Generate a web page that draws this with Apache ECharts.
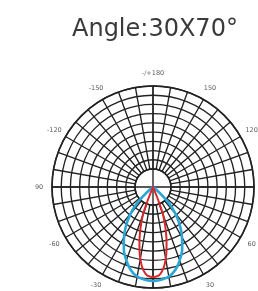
<!DOCTYPE html>
<html>
<head>
<meta charset="utf-8">
<script src="https://cdn.jsdelivr.net/npm/echarts@6/dist/echarts.min.js"></script>
<style>
html,body{margin:0;padding:0;background:#fff;}
#chart{width:258px;height:291px;}
</style>
</head>
<body>
<div id="chart"></div>
<script>
// title
var titleText = 'Angle:30X70°';

// angle tick labels (0 at the bottom, counter-clockwise)
var tickAngles = [0, 30, 60, 90, 120, 150, 180, 210, 240, 270, 300, 330];
var tickLabels = ['0', '30', '60', '90', '120', '150', '-/+180', '-150', '-120', '90', '-60', '-30'];

// 70 deg beam (blue)
var blueAngles = [-55, -50, -47, -45, -40, -35, -30, -25, -20, -15, -10, -5, 0, 5, 10, 15, 20, 25, 30, 35, 40, 45, 47, 50, 55];
var blueValues = [0, 4, 14, 22, 35, 47, 58, 69, 78, 86, 91, 93, 94, 93, 91, 86, 78, 69, 58, 47, 35, 22, 14, 4, 0];

// 30 deg beam (red)
var redAngles = [-25, -23, -22, -21, -20, -18, -16, -14, -12, -10, -8, -6, -4, -2, 0, 2, 4, 6, 8, 10, 12, 14, 16, 18, 20, 21, 22, 23, 25];
var redValues = [0, 3, 10, 20, 29, 38, 47, 56, 65, 73, 80, 85, 88.5, 89.5, 90, 89.5, 88.5, 85, 80, 73, 65, 56, 47, 38, 29, 20, 10, 3, 0];

function pairs(vals, angs){
	var out = [];
	for(var i=0;i<vals.length;i++){
		out.push([vals[i], angs[i]]);
	}
	return out;
}

var labelData = [];
for(var i=0;i<tickAngles.length;i++){
	labelData.push({value:[10.4, tickAngles[i]], name:tickLabels[i]});
}

var gridColor = '#222';
var center = [153, 187];

var myChart = echarts.init(document.getElementById('chart'), null, {renderer:'canvas'});

var option = {
	animation : false,
	title : {
		text : titleText,
		left : 67,
		top : 13,
		textStyle : {
			fontFamily : 'DejaVu Sans',
			fontSize : 24,
			fontWeight : 'normal',
			color : '#3a3a3a'
		}
	},
	polar : [
		{center : center, radius : [18, 101]},
		{center : center, radius : [0, 101]}
	],
	radiusAxis : [
		{
			polarIndex : 0,
			type : 'value',
			min : 0, max : 9, interval : 1,
			axisLine : {show:false},
			axisTick : {show:false},
			axisLabel : {show:false},
			splitLine : {show:true, lineStyle:{color:gridColor, width:1.35}}
		},
		{
			polarIndex : 1,
			type : 'value',
			min : 0, max : 101,
			axisLine : {show:false},
			axisTick : {show:false},
			axisLabel : {show:false},
			splitLine : {show:false}
		}
	],
	angleAxis : [
		{
			polarIndex : 0,
			type : 'value',
			min : 0, max : 360, interval : 30,
			startAngle : 270,
			clockwise : false,
			axisLine : {show:true, lineStyle:{color:gridColor, width:1.6}},
			axisTick : {show:false},
			axisLabel : {show:false},
			splitLine : {show:true, lineStyle:{color:gridColor, width:1.35}},
			minorTick : {show:false, splitNumber:3},
			minorSplitLine : {show:true, lineStyle:{color:gridColor, width:1.35}}
		},
		{
			// -180 sits at the top so that 0 lands at the bottom
			polarIndex : 1,
			type : 'value',
			min : -180, max : 180, interval : 90,
			startAngle : 90,
			clockwise : false,
			axisLine : {show:false},
			axisTick : {show:false},
			axisLabel : {show:false},
			splitLine : {show:true, lineStyle:{color:gridColor, width:1.35}}
		}
	],
	series : [
		{
			name : 'labels',
			type : 'scatter',
			coordinateSystem : 'polar',
			polarIndex : 0,
			symbolSize : 0,
			clip : false,
			silent : true,
			data : labelData,
			label : {
				show : true,
				position : 'inside',
				formatter : '{b}',
				fontFamily : 'DejaVu Sans',
				fontSize : 6.5,
				color : '#333'
			}
		},
		{
			name : '70',
			type : 'line',
			coordinateSystem : 'polar',
			polarIndex : 1,
			showSymbol : false,
			smooth : 0.2,
			data : pairs(blueValues, blueAngles),
			lineStyle : {color:'#29a6d6', width:2.6}
		},
		{
			name : '30',
			type : 'line',
			coordinateSystem : 'polar',
			polarIndex : 1,
			showSymbol : false,
			smooth : 0.2,
			data : pairs(redValues, redAngles),
			lineStyle : {color:'#d8282e', width:2}
		}
	]
};

myChart.setOption(option);
</script>
</body>
</html>
